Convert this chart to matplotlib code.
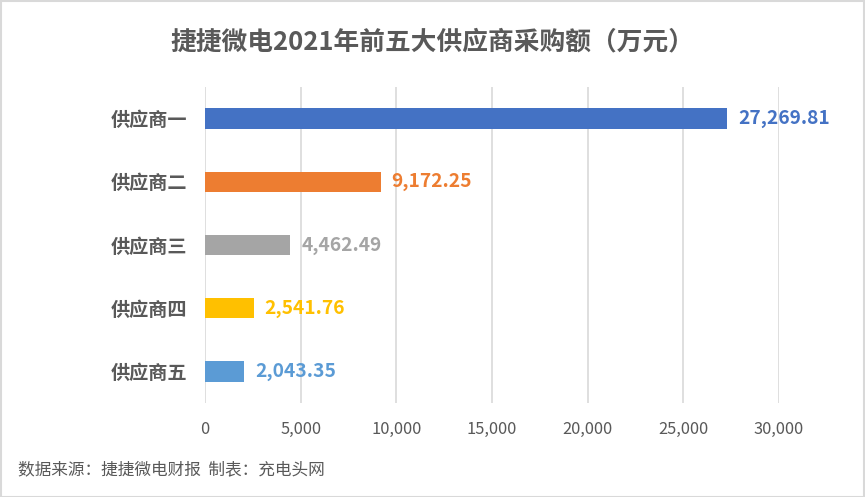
import matplotlib
matplotlib.use("Agg")
import matplotlib.pyplot as plt
from matplotlib.patches import Rectangle
from matplotlib.ticker import FuncFormatter

plt.rcParams['font.family'] = ['Noto Sans CJK SC', 'DejaVu Sans']

suppliers = ["供应商一", "供应商二", "供应商三", "供应商四", "供应商五"]
amounts = [27269.81, 9172.25, 4462.49, 2541.76, 2043.35]
colors = ["#4472C4", "#ED7D31", "#A5A5A5", "#FFC000", "#5B9BD5"]
x_ticks = [0, 5000, 10000, 15000, 20000, 25000, 30000]

fig = plt.figure(figsize=(8.65, 4.97), dpi=100)
ax = fig.add_axes([0.237, 0.189, 0.6636, 0.636])

ypos = list(range(len(suppliers)))[::-1]
ax.barh(ypos, amounts, height=0.32, color=colors, zorder=3)

for y, v, c in zip(ypos, amounts, colors):
    ax.annotate(f"{v:,.2f}", (v, y), xytext=(8, 0), textcoords="offset points",
                va="center", ha="left", fontsize=13.8, fontweight="bold", color=c)

ax.set_xlim(0, 30000)
ax.set_ylim(-0.5, len(suppliers) - 0.5)
ax.set_xticks(x_ticks)
ax.xaxis.set_major_formatter(FuncFormatter(lambda v, p: f"{int(v):,}"))
ax.set_yticks(ypos)
ax.set_yticklabels(suppliers, fontsize=13.8, fontweight="bold", color="#595959")
ax.tick_params(axis="x", length=0, pad=13, labelsize=11.8, labelcolor="#595959")
ax.tick_params(axis="y", length=0, pad=13)
ax.grid(axis="x", color="#D9D9D9", linewidth=1.2, zorder=0)
for s in ax.spines.values():
    s.set_visible(False)

fig.text(0.5, 0.915, "捷捷微电2021年前五大供应商采购额（万元）", ha="center", va="center",
         fontsize=18.5, fontweight="bold", color="#595959")
fig.text(0.021, 0.055, "数据来源：捷捷微电财报  制表：充电头网", ha="left", va="center",
         fontsize=12, color="#595959")

fig.patches.append(Rectangle((0.001, 0.001), 0.998, 0.997, transform=fig.transFigure,
                             fill=False, edgecolor="#D9D9D9", linewidth=1.5))

fig.savefig("out.png", dpi=100)
